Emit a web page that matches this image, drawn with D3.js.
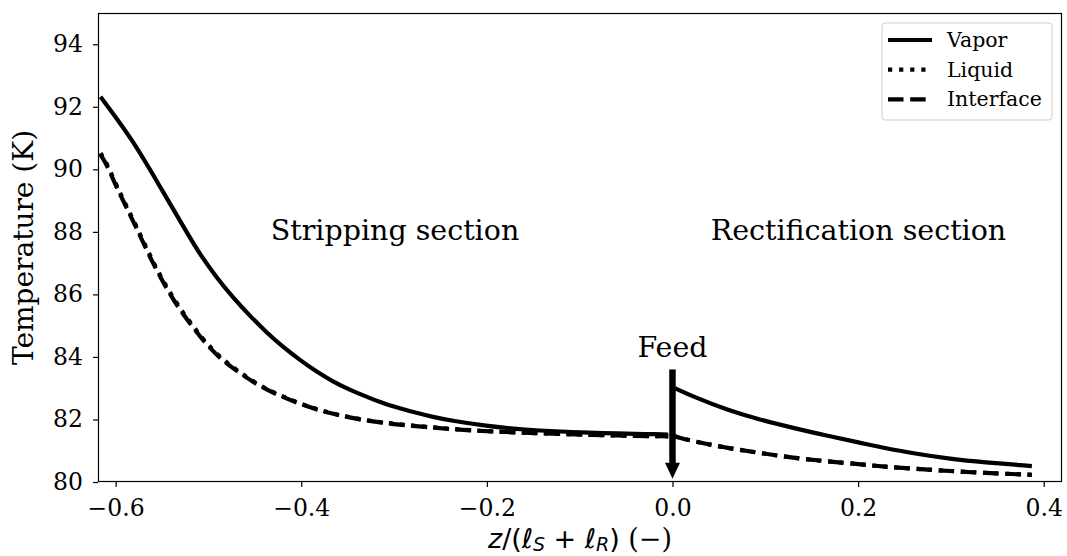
<!DOCTYPE html>
<html><head><meta charset="utf-8">
<script src="https://cdn.jsdelivr.net/npm/d3@7"></script>
<style>body{margin:0;background:#fff}svg{display:block}text{font-family:"DejaVu Serif",serif;fill:#000}</style>
</head><body><svg id="c" width="1067" height="556"></svg>
<script>
// Stripping section (z < 0)
const stripVapZ = [-0.6163,-0.5815,-0.5527,-0.5203,-0.5095,-0.4915,-0.4736,-0.4556,-0.4376,-0.4197,-0.4017,-0.3837,-0.3658,-0.3478,-0.3298,-0.3119,-0.2938,-0.2759,-0.2580,-0.2399,-0.2004,-0.1645,-0.0926,-0.0046];
const stripVap  = [92.32,90.94,89.47,87.83,87.30,86.55,85.90,85.32,84.79,84.32,83.91,83.53,83.21,82.95,82.73,82.52,82.36,82.21,82.08,81.97,81.79,81.68,81.57,81.52];
const stripLiqZ = [-0.6163,-0.6101,-0.6004,-0.5896,-0.5789,-0.5681,-0.5573,-0.5455,-0.5330,-0.5185,-0.5034,-0.4855,-0.4700,-0.4467,-0.4251,-0.4017,-0.3777,-0.3543,-0.3298,-0.3058,-0.2831,-0.2580,-0.2399,-0.2004,-0.1286,-0.0567,-0.0046];
const stripLiq  = [90.52,90.23,89.57,88.90,88.26,87.57,86.90,86.26,85.65,85.06,84.47,83.94,83.59,83.11,82.80,82.51,82.27,82.11,81.97,81.88,81.81,81.75,81.70,81.62,81.54,81.48,81.46];
const stripInt  = [90.47,90.18,89.52,88.85,88.21,87.52,86.85,86.21,85.60,85.02,84.43,83.90,83.56,83.09,82.78,82.50,82.26,82.10,81.96,81.87,81.80,81.74,81.69,81.62,81.54,81.48,81.46];
// Rectification section (z > 0)
const rectZ   = [0.0026,0.0223,0.0583,0.0942,0.1301,0.1661,0.2020,0.2272,0.2632,0.2991,0.3350,0.3872];
const rectVap = [83.00,82.73,82.31,81.99,81.73,81.48,81.26,81.09,80.90,80.74,80.63,80.51];
const rectLiq = [81.46,81.30,81.09,80.93,80.77,80.66,80.57,80.49,80.42,80.35,80.29,80.23];
const rectInt = [81.46,81.30,81.09,80.93,80.77,80.66,80.57,80.49,80.42,80.35,80.29,80.23];
const xTicks = [-0.6,-0.4,-0.2,0.0,0.2,0.4];
const yTicks = [80,82,84,86,88,90,92,94];
const seriesNames = ["Vapor","Liquid","Interface"];

const svg = d3.select("#c");
const L=98, R=1062, T=13, B=482;
const x = d3.scaleLinear().domain([-0.619,0.4197]).range([L,R]);
const y = d3.scaleLinear().domain([80,95]).range([B,T]);

const LW = 4.2;
const styles = {Vapor:null, Liquid:"4.2,6.9", Interface:"15.5,6.7"};
const line = d3.line().x(d=>x(d[0])).y(d=>y(d[1])).curve(d3.curveBasis);
function draw(zs, vs, name){
  svg.append("path").datum(zs.map((z,i)=>[z,vs[i]])).attr("d",line)
    .attr("fill","none").attr("stroke","#000").attr("stroke-width",LW)
    .attr("stroke-dasharray",styles[name]);
}
draw(stripVapZ,stripVap,"Vapor");
draw(stripLiqZ,stripLiq,"Liquid");
draw(stripLiqZ,stripInt,"Interface");
draw(rectZ,rectVap,"Vapor");
draw(rectZ,rectLiq,"Liquid");
draw(rectZ,rectInt,"Interface");

// Axes
const fmt = d=> (d<0?"\u2212":"")+Math.abs(d).toFixed(1);
const xa = svg.append("g").attr("transform",`translate(0,${B})`)
  .call(d3.axisBottom(x).tickValues(xTicks).tickFormat(fmt).tickSize(5).tickPadding(12));
const ya = svg.append("g").attr("transform",`translate(${L},0)`)
  .call(d3.axisLeft(y).tickValues(yTicks).tickFormat(d3.format("d")).tickSize(5).tickPadding(10));
[xa,ya].forEach(a=>{a.select(".domain").remove();
  a.selectAll("text").style("font-family","'DejaVu Serif',serif").style("font-size","23.5px").attr("fill","#000");
  a.selectAll("line").attr("stroke","#000").attr("stroke-width",1.2);});
svg.append("rect").attr("x",L+0.5).attr("y",T+0.5).attr("width",R-L-1).attr("height",B-T-1)
  .attr("fill","none").attr("stroke","#000").attr("stroke-width",1.2);

// Labels
svg.append("text").attr("transform",`translate(33,${(T+B)/2}) rotate(-90)`).attr("text-anchor","middle")
  .style("font-size","28px").text("Temperature (K)");
const xl = svg.append("text").attr("x",(L+R)/2).attr("y",548).attr("text-anchor","middle").style("font-size","27px");
const mf = "'DejaVu Sans',sans-serif";
xl.append("tspan").style("font-family",mf).style("font-style","italic").text("z");
xl.append("tspan").style("font-family",mf).text("/(");
xl.append("tspan").style("font-family",mf).style("font-style","italic").text("\u2113");
xl.append("tspan").attr("dy",3).style("font-family",mf).style("font-size","19px").style("font-style","italic").text("S");
xl.append("tspan").attr("dy",-3).style("font-family",mf).text(" + ");
xl.append("tspan").style("font-family",mf).style("font-style","italic").text("\u2113");
xl.append("tspan").attr("dy",3).style("font-family",mf).style("font-size","19px").style("font-style","italic").text("R");
xl.append("tspan").attr("dy",-3).style("font-family",mf).text(")");
xl.append("tspan").text(" (\u2212)");

svg.append("text").attr("x",x(-0.299)).attr("y",240).attr("text-anchor","middle").style("font-size","28.5px").text("Stripping section");
svg.append("text").attr("x",x(0.2004)).attr("y",240).attr("text-anchor","middle").style("font-size","28.5px").text("Rectification section");
svg.append("text").attr("x",x(0)).attr("y",357).attr("text-anchor","middle").style("font-size","28.5px").text("Feed");

// Feed arrow
const ax = x(0), aTop = y(83.6), aTip = y(80.1), headH = 16, headW = 7.5;
svg.append("line").attr("x1",ax).attr("x2",ax).attr("y1",aTop).attr("y2",aTip-headH+1)
  .attr("stroke","#000").attr("stroke-width",6.5);
svg.append("path").attr("d",`M${ax-headW},${aTip-headH} L${ax+headW},${aTip-headH} L${ax},${aTip} Z`).attr("fill","#000");

// Legend
const lg = svg.append("g");
lg.append("rect").attr("x",882).attr("y",23).attr("width",170).attr("height",97).attr("rx",3)
  .attr("fill","#fff").attr("fill-opacity",0.8).attr("stroke","#ccc").attr("stroke-width",1);
seriesNames.forEach((n,i)=>{
  const yy = 40 + i*29.7;
  lg.append("line").attr("x1",888).attr("x2",932).attr("y1",yy).attr("y2",yy)
    .attr("stroke","#000").attr("stroke-width",LW).attr("stroke-dasharray",styles[n]);
  lg.append("text").attr("x",947).attr("y",yy+7).style("font-size","20.5px").text(n);
});
</script></body></html>
